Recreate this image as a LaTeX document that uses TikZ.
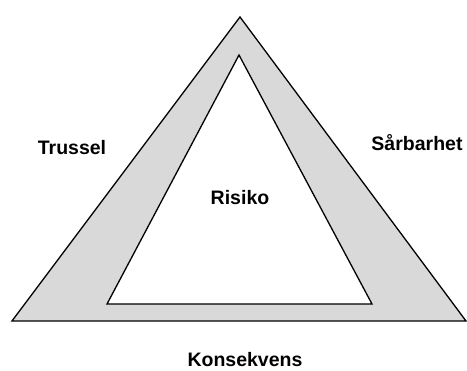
\documentclass[tikz,border=0pt]{standalone}
\usepackage{fontspec}
\setmainfont{Liberation Sans}
\usetikzlibrary{positioning}
\definecolor{shade}{HTML}{D9D9D9}
\tikzstyle{outer} = [draw, fill = shade, line width = 1.3pt, line join = miter]
\tikzstyle{inner} = [draw, fill = white, line width = 1.3pt, line join = miter]
\tikzstyle{label} = [font = \fontsize{19.5}{22}\selectfont\bfseries, inner sep = 0pt]

\begin{document}
\begin{tikzpicture}[x = 1pt, y = -1pt]
			\useasboundingbox (0, 0) rectangle (467, 371);
			% Corners
			\coordinate (top) at (240, 17);
			\coordinate (left) at (12, 321);
			\coordinate (right) at (466, 321);
			\coordinate (itop) at (239, 55);
			\coordinate (ileft) at (107, 304);
			\coordinate (iright) at (372, 304);
			% Draw triangles
			\path [outer] (top) -- (left) -- (right) -- cycle;
			\path [inner] (itop) -- (ileft) -- (iright) -- cycle;
			% Place nodes
			\node [label] (threat) at (72, 148) {Trussel};
			\node [label] (vuln) at (417, 143) {Sårbarhet};
			\node [label] (risk) at (240, 198) {Risiko};
			\node [label] (cons) at (245, 360) {Konsekvens};
		\end{tikzpicture}
\end{document}
